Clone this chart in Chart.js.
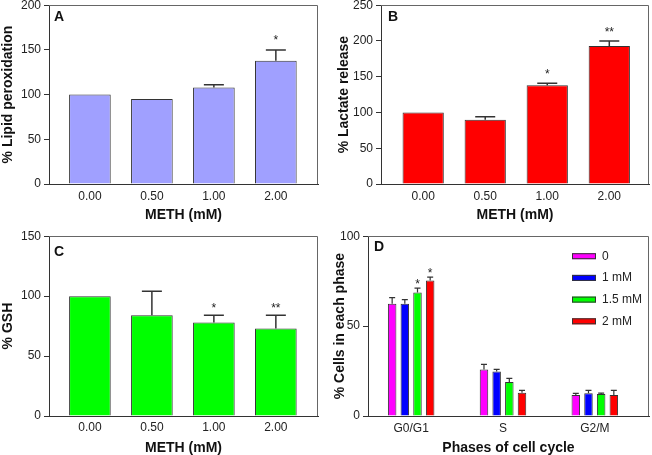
<!DOCTYPE html>
<html>
<head>
<meta charset="utf-8">
<script src="https://cdn.jsdelivr.net/npm/chart.js@4.4.0/dist/chart.umd.min.js"></script>
<style>
html,body{margin:0;padding:0;background:#fff;overflow:hidden;width:652px;height:455px;position:relative}
.p{position:absolute}
canvas{display:block}
</style>
</head>
<body>
<div class="p" style="left:0;top:-5px;width:326px;height:235px"><canvas id="cA" width="326" height="235"></canvas></div>
<div class="p" style="left:326px;top:-5px;width:326px;height:235px"><canvas id="cB" width="326" height="235"></canvas></div>
<div class="p" style="left:0;top:226px;width:326px;height:233px"><canvas id="cC" width="326" height="233"></canvas></div>
<div class="p" style="left:326px;top:226px;width:326px;height:233px"><canvas id="cD" width="326" height="233"></canvas></div>
<script>
// ---------- data ----------
const doseLabels = ['0.00', '0.50', '1.00', '2.00'];

const lipidValues = [100, 95, 108, 138];
const lipidErrors = [0, 0, 3, 12];
const lipidSig    = ['', '', '', '*'];

const lactateValues = [100, 90, 138, 193];
const lactateErrors = [0, 4, 3, 7];
const lactateSig    = ['', '', '*', '**'];

const gshValues = [100, 84, 78, 73];
const gshErrors = [0, 20, 6, 11];
const gshSig    = ['', '', '*', '**'];

const phaseLabels = ['G0/G1', 'S', 'G2/M'];
const cycleSeriesNames = ['0', '1 mM', '1.5 mM', '2 mM'];
const cycle0Values   = [62.4, 25.9, 11.7];
const cycle0Errors   = [3.4, 2.8, 0.9];
const cycle1Values   = [62.4, 24.8, 12.6];
const cycle1Errors   = [2.3, 1.1, 1.7];
const cycle15Values  = [68.7, 18.9, 12.2];
const cycle15Errors  = [2.4, 2.0, 0.5];
const cycle2Values   = [75.4, 13.0, 11.7];
const cycle2Errors   = [1.8, 1.3, 2.6];
const cycle0Sig  = ['', '', ''];
const cycle1Sig  = ['', '', ''];
const cycle15Sig = ['*', '', ''];
const cycle2Sig  = ['*', '', ''];

// ---------- helpers ----------
const FONT = "'Liberation Sans', Arial, Helvetica, sans-serif";
const AXIS = '#333333';

function toPoints(vals) { return vals.map((v, i) => ({ x: i, y: v })); }

const framePlugin = {
  id: 'frame',
  afterDatasetsDraw(chart) {
    const { ctx, chartArea: a } = chart;
    ctx.save();
    ctx.strokeStyle = '#666';
    ctx.lineWidth = 1;
    ctx.beginPath();
    const l = Math.round(a.left), t = Math.round(a.top) + 0.5, r = Math.round(a.right) - 0.5, b = Math.round(a.bottom);
    ctx.moveTo(l, t); ctx.lineTo(r, t); ctx.lineTo(r, b);
    ctx.stroke();
    ctx.restore();
  }
};

const errorPlugin = {
  id: 'errorBars',
  afterDatasetsDraw(chart, args, o) {
    const { ctx } = chart;
    const ys = chart.scales.y;
    chart.data.datasets.forEach((ds, di) => {
      const meta = chart.getDatasetMeta(di);
      meta.data.forEach((bar, i) => {
        const v = ds.data[i].y, e = ds.errors[i];
        const yTop = ys.getPixelForValue(v + e);
        ctx.save();
        if (e > 0) {
          ctx.strokeStyle = '#333';
          ctx.lineWidth = o.lineWidth;
          ctx.beginPath();
          ctx.moveTo(bar.x, bar.y);
          ctx.lineTo(bar.x, yTop);
          ctx.moveTo(bar.x - o.cap, yTop);
          ctx.lineTo(bar.x + o.cap, yTop);
          ctx.stroke();
        }
        const s = ds.sig && ds.sig[i];
        if (s) {
          ctx.fillStyle = '#222';
          ctx.font = '12px ' + FONT;
          ctx.textAlign = 'center';
          ctx.textBaseline = 'alphabetic';
          ctx.fillText(s, bar.x, yTop - o.starGap);
        }
        ctx.restore();
      });
    });
  }
};

const tagPlugin = {
  id: 'panelTag',
  afterDraw(chart, args, o) {
    const { ctx, chartArea: a } = chart;
    ctx.save();
    ctx.fillStyle = '#111';
    ctx.font = 'bold 14px ' + FONT;
    ctx.textAlign = 'left';
    ctx.textBaseline = 'middle';
    ctx.fillText(o.text, a.left + o.dx, a.top + o.dy);
    ctx.restore();
  }
};

const legendPlugin = {
  id: 'boxLegend',
  afterDraw(chart, args, o) {
    if (!o.show) return;
    const { ctx, chartArea: a } = chart;
    ctx.save();
    ctx.font = '12px ' + FONT;
    ctx.textAlign = 'left';
    ctx.textBaseline = 'middle';
    chart.data.datasets.forEach((ds, i) => {
      const x = a.right - o.fromRight;
      const cy = a.top + o.top + i * o.step;
      ctx.fillStyle = ds.backgroundColor;
      ctx.fillRect(x, cy - 3, 24, 6);
      ctx.strokeStyle = '#333';
      ctx.lineWidth = 1;
      ctx.strokeRect(x + 0.5, cy - 2.5, 23, 5);
      ctx.fillStyle = '#222';
      ctx.fillText(ds.label, x + 30, cy);
    });
    ctx.restore();
  }
};

function makeChart(id, p) {
  return new Chart(document.getElementById(id), {
    type: 'bar',
    data: { datasets: p.datasets },
    plugins: [framePlugin, errorPlugin, tagPlugin, legendPlugin],
    options: {
      responsive: false,
      animation: false,
      events: [],
      layout: { padding: { top: 10, right: p.padRight, left: 0, bottom: 0 } },
      datasets: { bar: { categoryPercentage: p.cp, barPercentage: p.bp, borderWidth: 1, borderColor: '#333', grouped: true } },
      plugins: {
        legend: { display: false },
        tooltip: { enabled: false },
        panelTag: { text: p.tag, dx: p.tagDx, dy: p.tagDy },
        errorBars: { cap: p.cap, starGap: p.starGap, lineWidth: p.errWidth },
        boxLegend: p.legend || { show: false }
      },
      scales: {
        x: {
          type: 'linear',
          offset: false,
          min: p.xMin, max: p.xMax,
          afterBuildTicks: (s) => { s.ticks = p.labels.map((_, i) => ({ value: i })); },
          afterFit: (s) => { s.height = p.xH; },
          grid: { display: false, drawTicks: false, offset: false },
          border: { display: true, color: AXIS, width: 1 },
          ticks: {
            autoSkip: false, maxRotation: 0, padding: p.xPad,
            color: '#222', font: { family: FONT, size: 12 },
            callback: (v) => p.labels[v]
          },
          title: {
            display: true, text: p.xTitle, color: '#111',
            font: { family: FONT, size: 14, weight: 'bold' },
            padding: { top: 0, bottom: p.xTitlePad }
          }
        },
        y: {
          min: 0, max: p.yMax,
          afterFit: (s) => { s.width = p.yW; },
          grid: { display: true, drawOnChartArea: false, drawTicks: true, tickLength: 5, tickColor: AXIS, color: AXIS },
          border: { display: true, color: AXIS, width: 1 },
          ticks: { stepSize: p.yStep, padding: 3, color: '#222', font: { family: FONT, size: 12 } },
          title: {
            display: true, text: p.yTitle, color: '#111',
            font: { family: FONT, size: 14, weight: 'bold' },
            padding: { top: p.yTitlePad, bottom: 0 }
          }
        }
      }
    }
  });
}

makeChart('cA', {
  datasets: [{ label: 'Lipid peroxidation', data: toPoints(lipidValues), errors: lipidErrors, sig: lipidSig, backgroundColor: '#a0a0ff' }],
  labels: doseLabels, xMin: -0.66, xMax: 3.68, cp: 1, bp: 0.672,
  padRight: 8, yW: 49, xH: 46, xPad: 5.5, xTitlePad: 6.6, yTitlePad: 0,
  yMax: 200, yStep: 50, xTitle: 'METH (mM)', yTitle: '% Lipid peroxidation',
  tag: 'A', tagDx: 5, tagDy: 12, cap: 10, starGap: 6, errWidth: 1.5
});

makeChart('cB', {
  datasets: [{ label: 'Lactate release', data: toPoints(lactateValues), errors: lactateErrors, sig: lactateSig, backgroundColor: '#ff0000' }],
  labels: doseLabels, xMin: -0.68, xMax: 3.64, cp: 1, bp: 0.665,
  padRight: 3, yW: 55, xH: 46, xPad: 5.5, xTitlePad: 6.6, yTitlePad: 9.3,
  yMax: 250, yStep: 50, xTitle: 'METH (mM)', yTitle: '% Lactate release',
  tag: 'B', tagDx: 7, tagDy: 12, cap: 10, starGap: 5, errWidth: 1.5
});

makeChart('cC', {
  datasets: [{ label: 'GSH', data: toPoints(gshValues), errors: gshErrors, sig: gshSig, backgroundColor: '#00ff00' }],
  labels: doseLabels, xMin: -0.66, xMax: 3.68, cp: 1, bp: 0.672,
  padRight: 8, yW: 49, xH: 43, xPad: 4.8, xTitlePad: 2, yTitlePad: 0,
  yMax: 150, yStep: 50, xTitle: 'METH (mM)', yTitle: '% GSH',
  tag: 'C', tagDx: 5, tagDy: 16, cap: 10, starGap: 3, errWidth: 1.5
});

makeChart('cD', {
  datasets: [
    { label: cycleSeriesNames[0], data: toPoints(cycle0Values),  errors: cycle0Errors,  sig: cycle0Sig,  backgroundColor: '#ff00ff' },
    { label: cycleSeriesNames[1], data: toPoints(cycle1Values),  errors: cycle1Errors,  sig: cycle1Sig,  backgroundColor: '#0000ff' },
    { label: cycleSeriesNames[2], data: toPoints(cycle15Values), errors: cycle15Errors, sig: cycle15Sig, backgroundColor: '#00ff00' },
    { label: cycleSeriesNames[3], data: toPoints(cycle2Values),  errors: cycle2Errors,  sig: cycle2Sig,  backgroundColor: '#ff0000' }
  ],
  labels: phaseLabels, xMin: -0.47, xMax: 2.59, cp: 0.552, bp: 0.67,
  padRight: 3, yW: 42, xH: 43, xPad: 5.8, xTitlePad: 2, yTitlePad: 5.6,
  yMax: 100, yStep: 50, xTitle: 'Phases of cell cycle', yTitle: '% Cells in each phase',
  tag: 'D', tagDx: 6, tagDy: 11, cap: 3, starGap: 0, errWidth: 1.2,
  legend: { show: true, fromRight: 77, top: 20, step: 21.7 }
});
</script>
</body>
</html>
